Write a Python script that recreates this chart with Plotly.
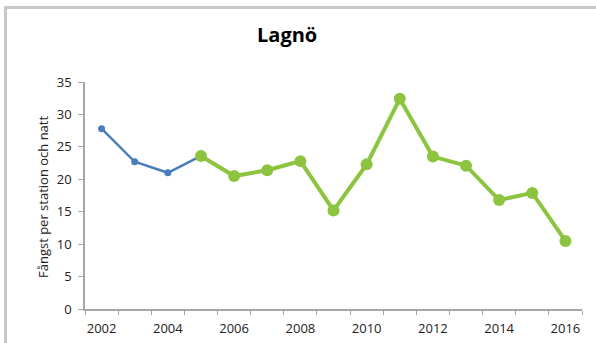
import plotly.graph_objects as go

# Fångst per station och natt, Lagnö
years_early = [2002, 2003, 2004, 2005]
catch_early = [27.8, 22.7, 21.0, 23.6]

years_late = [2005, 2006, 2007, 2008, 2009, 2010, 2011, 2012, 2013, 2014, 2015, 2016]
catch_late = [23.6, 20.5, 21.4, 22.8, 15.2, 22.3, 32.4, 23.5, 22.1, 16.8, 17.9, 10.5]

label_years = [2002, 2004, 2006, 2008, 2010, 2012, 2014, 2016]
y_ticks = [0, 5, 10, 15, 20, 25, 30, 35]

FONT = "Open Sans, Liberation Sans, sans-serif"
AXIS_GRAY = "#a6a6a6"
W, H = 596, 343
ML, MR, MT, MB = 85, 14, 82, 34
PW, PH = W - ML - MR, H - MT - MB


def px_x(x):
    return (x - ML) / PW


def px_y(y):
    return (H - MB - y) / PH


fig = go.Figure()

fig.add_trace(go.Scatter(
    x=years_early, y=catch_early, mode="lines+markers",
    line=dict(color="#4a7ebb", width=2.5),
    marker=dict(color="#4a7ebb", size=7),
    showlegend=False, hoverinfo="x+y",
))

fig.add_trace(go.Scatter(
    x=years_late, y=catch_late, mode="lines+markers",
    line=dict(color="#8cc43f", width=4),
    marker=dict(color="#8cc43f", size=12),
    showlegend=False, hoverinfo="x+y",
))

fig.update_layout(
    width=W, height=H,
    margin=dict(l=ML, r=MR, t=MT, b=MB),
    paper_bgcolor="white", plot_bgcolor="white",
    font=dict(family=FONT, size=13, color="#222222"),
    annotations=[
        dict(text="<b>Lagnö</b>", x=px_x(287), y=px_y(35), xref="paper", yref="paper",
             xanchor="center", yanchor="middle",
             showarrow=False, font=dict(size=20, color="#000000", family=FONT)),
        dict(text="Fångst per station och natt", textangle=-90,
             x=px_x(43), y=px_y(197), xref="paper", yref="paper",
             xanchor="center", yanchor="middle",
             showarrow=False, font=dict(size=13, color="#222222", family=FONT)),
    ],
    shapes=[
        dict(type="line", xref="paper", yref="paper",
             x0=px_x(4), x1=px_x(W), y0=px_y(7.5), y1=px_y(7.5),
             line=dict(color="#c8c8c8", width=3)),
        dict(type="line", xref="paper", yref="paper",
             x0=px_x(5.5), x1=px_x(5.5), y0=px_y(H), y1=px_y(6),
             line=dict(color="#c8c8c8", width=3)),
    ],
)

fig.update_xaxes(
    range=[2001.5, 2016.5],
    tickvals=label_years, ticktext=[str(y) for y in label_years],
    ticks="", showgrid=False, zeroline=False,
    showline=True, linecolor=AXIS_GRAY, linewidth=1.5,
    tickfont=dict(size=13, color="#222222"),
    ticklabelstandoff=7, automargin=False,
    minor=dict(tickvals=[y + 0.5 for y in range(2001, 2017)], ticks="outside",
               ticklen=4, tickcolor=AXIS_GRAY, showgrid=False),
    fixedrange=True,
)
fig.update_yaxes(
    range=[0, 35], tickvals=y_ticks,
    ticks="outside", ticklen=5, tickcolor=AXIS_GRAY,
    showgrid=False, zeroline=False,
    showline=True, linecolor=AXIS_GRAY, linewidth=1.5,
    tickfont=dict(size=13, color="#222222"),
    ticklabelstandoff=4, automargin=False,
    fixedrange=True,
)

fig.write_html("out.html")
